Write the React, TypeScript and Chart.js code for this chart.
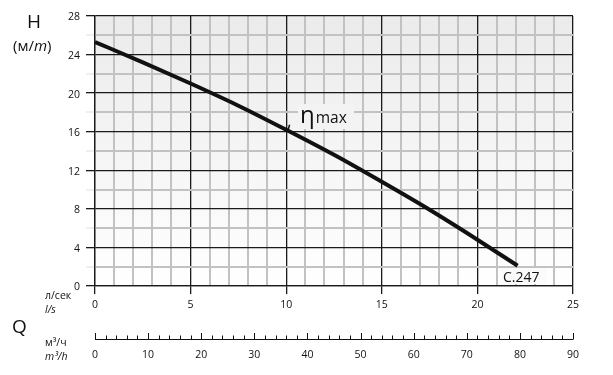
import React, { useEffect, useRef } from "react";
import { Chart, registerables } from "chart.js";
Chart.register(...registerables);

// Data
const flowLs = [0, 2.5, 5, 7.5, 10, 12.5, 15, 17.5, 20, 22.1];
const headM = [25.3, 23.2, 21.0, 18.7, 16.2, 13.6, 10.8, 7.9, 4.8, 2.1];
const flowLabelStep = 5;
const flowMax = 25;
const headMax = 28;
const headLabelStep = 4;
const flowM3hMax = 90;
const flowM3hLabelStep = 10;
const flowM3hMinorStep = 2;
const etaMaxFlow = 10.1;
const curveName = "C.247";

const FONT = "'Open Sans', 'Noto Sans', sans-serif";

const bgPlugin = {
  id: "bgGrad",
  beforeDraw(chart: any) {
    const { ctx, chartArea: a } = chart;
    const g = ctx.createLinearGradient(0, a.top, 0, a.bottom);
    g.addColorStop(0, "#ebebeb");
    g.addColorStop(1, "#ffffff");
    ctx.save();
    ctx.fillStyle = g;
    ctx.fillRect(a.left, a.top, a.right - a.left, a.bottom - a.top);
    ctx.restore();
  },
};

const annotPlugin = {
  id: "annot",
  afterDraw(chart: any) {
    const { ctx } = chart;
    const xs = chart.scales.x;
    const ys = chart.scales.y;
    const x2 = chart.scales.x2;
    ctx.save();
    ctx.fillStyle = "#111";
    ctx.strokeStyle = "#111";
    ctx.textBaseline = "middle";

    // Y axis title
    ctx.font = `19px ${FONT}`;
    ctx.textAlign = "center";
    ctx.fillText("H", 34, 23);
    ctx.textAlign = "left";
    ctx.font = `15px ${FONT}`;
    let px = 13;
    ctx.fillText("(м/", px, 47);
    px += ctx.measureText("(м/").width;
    ctx.font = `italic 15px ${FONT}`;
    ctx.fillText("m", px, 47);
    px += ctx.measureText("m").width;
    ctx.font = `15px ${FONT}`;
    ctx.fillText(")", px, 47);

    // Q
    ctx.font = `19px ${FONT}`;
    ctx.fillText("Q", 12, 328);

    // units
    ctx.font = `10.5px ${FONT}`;
    ctx.fillText("л/сек", 45, 296);
    ctx.fillText("м³/ч", 45, 343);
    ctx.font = `italic 10.5px ${FONT}`;
    ctx.fillText("l/s", 45, 310);
    ctx.fillText("m³/h", 45, 357);

    // Q axis (m3/h) line and ticks
    const lineY = 339.5;
    ctx.lineWidth = 1;
    ctx.beginPath();
    ctx.moveTo(x2.getPixelForValue(0), lineY);
    ctx.lineTo(x2.getPixelForValue(flowM3hMax), lineY);
    ctx.stroke();
    for (let v = 0; v <= flowM3hMax; v += flowM3hMinorStep) {
      const tx = Math.round(x2.getPixelForValue(v)) + 0.5;
      const len = v % flowM3hLabelStep === 0 ? 6.5 : 4;
      ctx.beginPath();
      ctx.moveTo(tx, lineY);
      ctx.lineTo(tx, lineY - len);
      ctx.stroke();
    }

    // eta max label
    const ex = xs.getPixelForValue(etaMaxFlow);
    const ey = ys.getPixelForValue(16.1);
    ctx.lineWidth = 1.5;
    ctx.beginPath();
    ctx.moveTo(ex, ey - 1);
    ctx.lineTo(ex + 1.5, ey - 6);
    ctx.stroke();

    ctx.fillStyle = "#f3f3f3";
    ctx.fillRect(298, 104, 56, 25);
    ctx.fillStyle = "#111";
    ctx.textBaseline = "alphabetic";
    ctx.font = `24px ${FONT}`;
    ctx.fillText("η", 300, 123);
    const ew = ctx.measureText("η").width;
    ctx.font = `15.5px ${FONT}`;
    ctx.fillText("max", 301 + ew, 123);

    // curve name
    ctx.fillStyle = "#fbfbfb";
    ctx.fillRect(502, 268, 44, 16);
    ctx.fillStyle = "#111";
    ctx.font = `14px ${FONT}`;
    ctx.fillText(curveName, 503, 281.5);
    ctx.restore();
  },
};

export default function App() {
  const ref = useRef<HTMLCanvasElement | null>(null);
  useEffect(() => {
    if (!ref.current) return;
    const chart = new Chart(ref.current, {
      type: "line",
      data: {
        datasets: [
          {
            data: flowLs.map((f, i) => ({ x: f, y: headM[i] })),
            borderColor: "#111",
            borderWidth: 4,
            pointRadius: 0,
            cubicInterpolationMode: "monotone",
            fill: false,
          },
        ],
      },
      options: {
        responsive: false,
        animation: false,
        layout: { padding: { left: 0, top: 16, right: 40, bottom: 0 } },
        plugins: { legend: { display: false }, tooltip: { enabled: false } },
        scales: {
          x: {
            type: "linear",
            min: 0,
            max: flowMax,
            weight: 0,
            afterFit: (s: any) => {
              s.height = 32;
            },
            ticks: {
              stepSize: 1,
              autoSkip: false,
              maxRotation: 0,
              padding: 5,
              color: "#111",
              font: { family: FONT, size: 10.5 },
              callback: (v: any) => (Number(v) % flowLabelStep === 0 ? String(v) : ""),
            },
            grid: {
              color: (c: any) => (c.tick && c.tick.value % flowLabelStep === 0 ? "#1a1a1a" : "#c2c2c2"),
              lineWidth: (c: any) => (c.tick && c.tick.value % flowLabelStep === 0 ? 1.3 : 2),
              tickColor: (c: any) => (c.tick && c.tick.value % flowLabelStep === 0 ? "#1a1a1a" : "rgba(0,0,0,0)"),
              tickLength: 8,
              tickWidth: 1.3,
            },
            border: { display: true, color: "#1a1a1a", width: 1.3 },
          },
          x2: {
            type: "linear",
            position: "bottom",
            min: 0,
            max: flowM3hMax,
            weight: 1,
            afterFit: (s: any) => {
              s.height = 57;
            },
            ticks: {
              stepSize: flowM3hLabelStep,
              maxRotation: 0,
              padding: 31,
              color: "#111",
              font: { family: FONT, size: 10.5 },
            },
            grid: { display: false, drawTicks: false, drawOnChartArea: false },
            border: { display: false },
          },
          y: {
            type: "linear",
            min: 0,
            max: headMax,
            afterFit: (s: any) => {
              s.width = 95;
            },
            ticks: {
              stepSize: 2,
              autoSkip: false,
              padding: 6,
              labelOffset: 1.5,
              color: "#111",
              font: { family: FONT, size: 10.5 },
              callback: (v: any) => (Number(v) % headLabelStep === 0 ? String(v) : ""),
            },
            grid: {
              color: (c: any) => (c.tick && c.tick.value % headLabelStep === 0 ? "#1a1a1a" : "#c2c2c2"),
              lineWidth: (c: any) => (c.tick && c.tick.value % headLabelStep === 0 ? 1.3 : 2),
              tickColor: (c: any) => (c.tick && c.tick.value % headLabelStep === 0 ? "#1a1a1a" : "#e6e6e6"),
              tickLength: 9,
              tickWidth: 1.3,
            },
            border: { display: true, color: "#1a1a1a", width: 1.3 },
          },
        },
      },
      plugins: [bgPlugin, annotPlugin],
    } as any);
    return () => chart.destroy();
  }, []);
  return (
    <div style={{ position: "absolute", left: 0, top: 0, width: 613, height: 375, background: "#fff" }}>
      <canvas ref={ref} width={613} height={375} style={{ width: 613, height: 375, display: "block" }} />
    </div>
  );
}
